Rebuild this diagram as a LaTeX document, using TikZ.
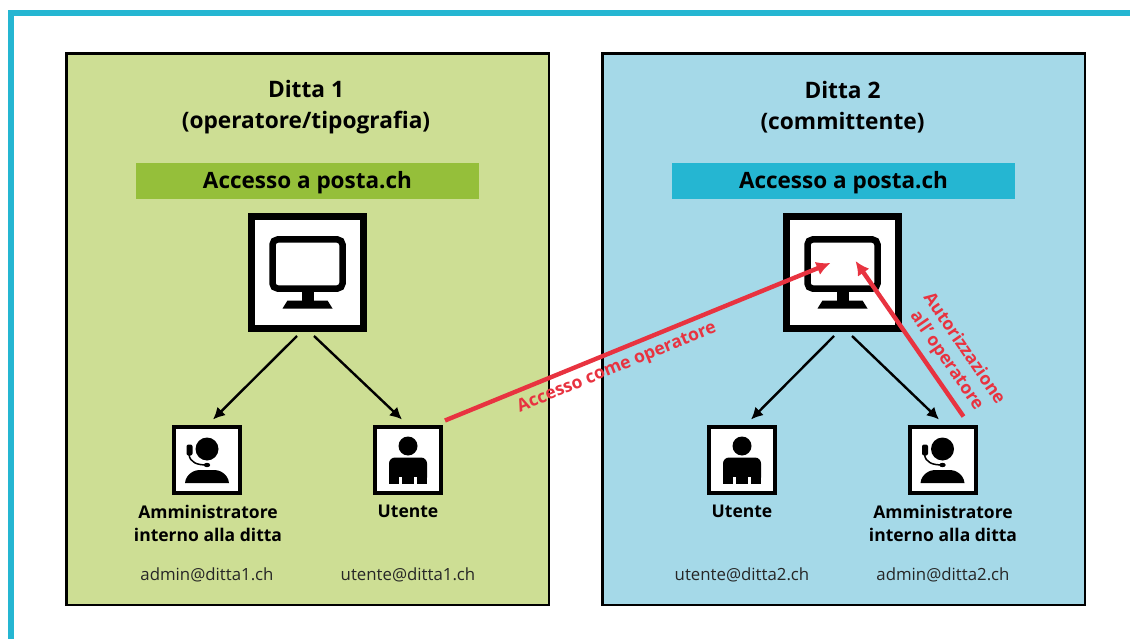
\documentclass[tikz,border=0pt]{standalone}
\usepackage{fontspec}
\setmainfont{Open Sans}
\usetikzlibrary{arrows.meta}
\definecolor{frameblue}{HTML}{25B6D2}
\definecolor{panelgreen}{HTML}{CDDE94}
\definecolor{panelblue}{HTML}{A5D9E8}
\definecolor{bandgreen}{HTML}{95BF3A}
\definecolor{alertred}{HTML}{E83340}
\tikzset{
  x=1pt,y=-1pt,
  panel/.style={draw=black,line width=2.7pt,minimum width=482.7pt,minimum height=551.5pt,inner sep=0pt},
  band/.style={minimum width=343pt,minimum height=36pt,inner sep=0pt},
  bandtext/.style={font=\fontsize{22.5}{26}\selectfont\bfseries},
  title/.style={align=center,font=\fontsize{22.7}{31}\selectfont\bfseries},
  bigbox/.style={draw=black,fill=white,line width=7pt,minimum size=112pt,inner sep=0pt},
  smallbox/.style={draw=black,fill=white,line width=4pt,minimum size=66pt,inner sep=0pt},
  role/.style={align=center,font=\fontsize{17.5}{23}\selectfont\bfseries},
  mail/.style={font=\fontsize{16.8}{20}\selectfont,text=black!85},
  blackarrow/.style={draw=black,line width=2.4pt,-{Latex[length=12pt,width=12pt]}},
  redarrow/.style={draw=alertred,line width=4.4pt,-{Latex[length=14pt,width=14pt]}},
  redtext/.style={text=alertred,align=center,font=\fontsize{17.6}{21}\selectfont\bfseries},
  monitor/.pic={
    \draw[black,line width=6.5pt,rounded corners=5pt] (-35,-33) rectangle (35,16);
    \fill[black] (-6,19) rectangle (6,28);
    \fill[black] (-25,36) -- (-20,28) -- (20,28) -- (25,36) -- cycle;
  },
  personicon/.pic={
    \fill[black] (0,-13.5) circle[radius=9.5];
    \fill[black,rounded corners=6pt] (-19,24) -- (-19,-2) -- (19,-2) -- (19,24) -- cycle;
    \fill[black] (-19,24) rectangle (19,10);
    \fill[white] (-9,24.5) rectangle (-6,17);
    \fill[white] (9,24.5) rectangle (6,17);
  },
  agenticon/.pic={
    \fill[black] (0,-10.5) circle[radius=11.5];
    \fill[black] (-22,23.5) .. controls (-21,14) and (-12,10.5) .. (-8,10.5) -- (8,10.5) .. controls (12,10.5) and (21,14) .. (22,23.5) -- cycle;
    \fill[black,rounded corners=2pt] (-20.5,-15) rectangle (-14.5,-4);
    \draw[black,line width=1.5pt] (-18,-5) .. controls (-17,3) and (-10,5.5) .. (0,5.5);
    \fill[black] (0,5.5) ellipse[x radius=3.2,y radius=2.2];
  }
}
\begin{document}
\begin{tikzpicture}
\useasboundingbox (0,0) rectangle (1130,639);
\fill[white] (0,0) rectangle (1130,639);
\fill[frameblue] (8,10) rectangle (1130,16);
\fill[frameblue] (8,10) rectangle (14,639);

\node[panel,fill=panelgreen] (p1) at (307.7,329.3) {};
\node[panel,fill=panelblue] (p2) at (843.5,329.3) {};

\node[title] (t1) at (306,107.5) {Ditta 1\\(operatore/tipografia)};
\node[title] (t2) at (842.5,107.5) {Ditta 2\\(committente)};

\node[band,fill=bandgreen] (b1) at (307.5,181) {};
\node[band,fill=frameblue] (b2) at (843.5,181) {};
\node[bandtext] (bt1) at ([yshift=-2pt]b1.center) {Accesso a posta.ch};
\node[bandtext] (bt2) at ([yshift=-2pt]b2.center) {Accesso a posta.ch};

\node[bigbox] (mon1) at (307.5,272.5) {};
\node[bigbox] (mon2) at (842.5,272.5) {};
\pic at (mon1.center) {monitor};
\pic at (mon2.center) {monitor};

\node[smallbox] (adm1) at (207,459.5) {};
\node[smallbox] (ute1) at (408,459.5) {};
\node[smallbox] (ute2) at (742,459.5) {};
\node[smallbox] (adm2) at (942.5,459.5) {};
\pic at (adm1.center) {agenticon};
\pic at (ute1.center) {personicon};
\pic at (ute2.center) {personicon};
\pic at (adm2.center) {agenticon};

\node[role] (la1) at (208,523) {Amministratore\\interno alla ditta};
\node[role] (lu1) at (408,511.5) {Utente};
\node[role] (lu2) at (742,511.5) {Utente};
\node[role] (la2) at (943,523) {Amministratore\\interno alla ditta};

\node[mail] (m1) at (207,575) {admin@ditta1.ch};
\node[mail] (m2) at (408,575) {utente@ditta1.ch};
\node[mail] (m3) at (742,575) {utente@ditta2.ch};
\node[mail] (m4) at (943,575) {admin@ditta2.ch};

\draw[blackarrow] ([xshift=-10.5pt,yshift=-4pt]mon1.south) -- ([xshift=6pt,yshift=5pt]adm1.north);
\draw[blackarrow] ([xshift=6.5pt,yshift=-4pt]mon1.south) -- ([xshift=-6pt,yshift=5pt]ute1.north);
\draw[blackarrow] ([xshift=-8.5pt,yshift=-4pt]mon2.south) -- ([xshift=9pt,yshift=5pt]ute2.north);
\draw[blackarrow] ([xshift=9.5pt,yshift=-4pt]mon2.south) -- ([xshift=-3.5pt,yshift=5pt]adm2.north);

\draw[redarrow] ([xshift=2pt,yshift=4pt]ute1.north east) -- ([xshift=-12pt,yshift=9.5pt]mon2.center);
\draw[redarrow] ([xshift=-14pt,yshift=8pt]adm2.north east) -- ([xshift=13pt,yshift=11.5pt]mon2.center);

\node[redtext,rotate=22.2] (r1) at (617,368) {Accesso come operatore};
\node[redtext,rotate=-55.5] (r2) at (955,355) {Autorizzazione\\all’\,operatore};
\end{tikzpicture}
\end{document}
